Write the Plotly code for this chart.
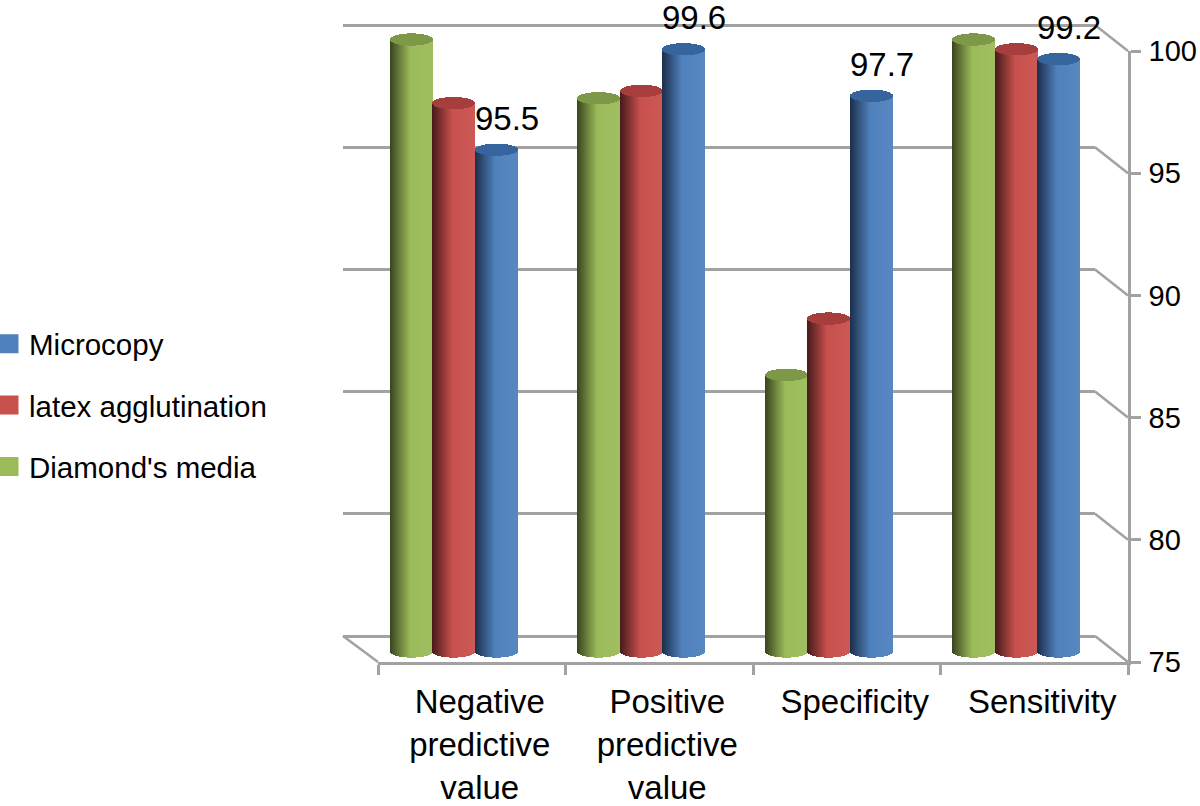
import math
import plotly.graph_objects as go

categories = ["Negative predictive value", "Positive predictive value", "Specificity", "Sensitivity"]
tick_labels = ["Negative<br>predictive<br>value", "Positive<br>predictive<br>value", "Specificity", "Sensitivity"]
diamonds_media = [100.0, 97.6, 86.3, 100.0]
latex_agglutination = [97.4, 97.9, 88.6, 99.6]
microcopy = [95.5, 99.6, 97.7, 99.2]
y_ticks = [75, 80, 85, 90, 95, 100]

W, H = 1200, 806
FONT = "Liberation Sans, Arial, sans-serif"
GRAY = "#a2a2a2"
STEPS = 42  # strips per cylinder (shading)
CAT_PX = 187.5
BAR_PX = 42.0
CAP_UNITS = 0.25  # half height of the elliptical cap, in value units
UNIT_PX = 24.48

series = [
    ("Diamond's media", diamonds_media, -42.5, (155, 187, 89), (125, 152, 70), (56, 68, 30)),
    ("latex agglutination", latex_agglutination, 0.0, (200, 80, 77), (165, 62, 60), (70, 26, 26)),
    ("Microcopy", microcopy, 42.5, (79, 129, 189), (54, 100, 156), (28, 46, 74)),
]


def px(p):
    return p / W


def py(p):
    return 1 - p / H


def rgb(c):
    return "rgb(%d,%d,%d)" % tuple(round(v) for v in c)


def mix(a, b, t):
    return tuple(x + (y - x) * t for x, y in zip(a, b))


def shade(t, base, dark):
    if t < 0.48:
        return mix(dark, base, t / 0.48)
    return mix(base, (255, 255, 255), 0.05 * (t - 0.48) / 0.52)


fig = go.Figure()

# legend entries (listed top to bottom)
for name, vals, _, col, _, _ in reversed(series):
    fig.add_trace(go.Scatter(
        x=categories, y=[None] * len(vals), name=name, mode="markers",
        legendgroup=name, xaxis="x", yaxis="y", hoverinfo="skip",
        marker=dict(symbol="square", size=16, color=rgb(col), line=dict(color=rgb(col), width=3)),
    ))

# front axes carrier
fig.add_trace(go.Scatter(x=categories, y=[None] * 4, showlegend=False, hoverinfo="skip",
                         xaxis="x3", yaxis="y3"))

for name, vals, shift, col, cap, dark in series:
    off0 = (shift - BAR_PX / 2) / CAT_PX
    # the plain bar for the series
    fig.add_trace(go.Bar(
        x=categories, y=[v - 75 for v in vals], base=75, name=name, showlegend=False,
        legendgroup=name, customdata=vals, hovertemplate="%{x}: %{customdata}<extra>" + name + "</extra>",
        width=BAR_PX / CAT_PX, offset=off0, marker=dict(color=rgb(col), line=dict(width=0)),
        xaxis="x2", yaxis="y2",
    ))
    # cylinder shading: narrow strips following the elliptical ends
    bx, by, bbase, boff, bcol = [], [], [], [], []
    cx, cy, cbase, coff = [], [], [], []
    for cat, v in zip(categories, vals):
        for i in range(STEPS):
            t = (i + 0.5) / STEPS
            e = CAP_UNITS * math.sqrt(max(0.0, 1 - (2 * t - 1) ** 2))
            o = off0 + i * (BAR_PX / STEPS) / CAT_PX
            bx.append(cat)
            bbase.append(75 - e)
            by.append(v - 75)
            boff.append(o)
            bcol.append(rgb(shade(t, col, dark)))
            cx.append(cat)
            cbase.append(v - e)
            cy.append(2 * e)
            coff.append(o)
    w = 1.25 * (BAR_PX / STEPS) / CAT_PX
    fig.add_trace(go.Bar(x=bx, y=by, base=bbase, offset=boff, width=w, showlegend=False,
                         hoverinfo="skip",
                         marker=dict(color=bcol, line=dict(width=0)), xaxis="x2", yaxis="y2"))
    fig.add_trace(go.Bar(x=cx, y=cy, base=cbase, offset=coff, width=w, showlegend=False,
                         hoverinfo="skip",
                         marker=dict(color=rgb(cap), line=dict(width=0)), xaxis="x2", yaxis="y2"))

# perspective connectors between back wall and front axes
LW = 2.5
shapes = []
for k in range(len(y_ticks)):
    yb = 636 - k * 122.2
    yf = 662 - k * 122.2
    shapes.append(dict(type="line", xref="paper", yref="paper", x0=px(1095), y0=py(yb),
                       x1=px(1128), y1=py(yf), line=dict(color=GRAY, width=LW), layer="below"))
shapes.append(dict(type="line", xref="paper", yref="paper", x0=px(343), y0=py(636),
                   x1=px(378), y1=py(662), line=dict(color=GRAY, width=LW), layer="below"))

annotations = [
    dict(x=cat, y=v, xref="x2", yref="y2", text="%.1f" % v, showarrow=False, xshift=53, yshift=31,
         font=dict(family=FONT, size=33, color="#000000"))
    for cat, v in zip(categories, microcopy)
]

cat_range = [-0.5, 3.5]
BACK_UNIT = 122.2 / 5
fig.update_layout(
    width=W, height=H, autosize=False,
    margin=dict(l=0, r=0, t=0, b=0, autoexpand=False),
    paper_bgcolor="white", plot_bgcolor="rgba(0,0,0,0)",
    barmode="overlay", bargap=0,
    font=dict(family=FONT, color="#000000"),
    shapes=shapes, annotations=annotations,
    legend=dict(x=px(-11), xanchor="left", y=py(318), yanchor="top", traceorder="grouped",
                tracegroupgap=20, font=dict(family=FONT, size=29.5, color="#000000"), itemsizing="trace",
                bgcolor="rgba(0,0,0,0)", itemclick=False, itemdoubleclick=False),
    xaxis=dict(domain=[px(343), px(1095)], type="category", categoryorder="array",
               categoryarray=categories, range=cat_range, visible=False, anchor="y"),
    # one extra value unit at each end so the gridlines at 75 and 100 are drawn
    yaxis=dict(domain=[py(636 + BACK_UNIT), py(25 - BACK_UNIT)], range=[74, 101], tickvals=y_ticks,
               showticklabels=False, ticks="", showgrid=True, gridcolor=GRAY, gridwidth=LW,
               zeroline=False, showline=False, anchor="x"),
    xaxis2=dict(domain=[px(360), px(1110)], type="category", categoryorder="array",
                categoryarray=categories, range=cat_range, visible=False, anchor="y2"),
    # one extra value unit at each end leaves room for the elliptical ends
    yaxis2=dict(domain=[py(651 + UNIT_PX), py(39 - UNIT_PX)], range=[74, 101], visible=False, anchor="x2"),
    xaxis3=dict(domain=[px(378), px(1128)], type="category", categoryorder="array",
                categoryarray=categories, range=cat_range, tickmode="array", tickvals=categories,
                ticktext=tick_labels, tickson="boundaries", ticks="outside", ticklen=10,
                tickwidth=LW, tickcolor=GRAY, showline=True, linecolor=GRAY, linewidth=LW,
                showgrid=False, zeroline=False, tickangle=0, ticklabelshift=8,
                ticklabelstandoff=9, tickfont=dict(family=FONT, size=33), anchor="y3"),
    yaxis3=dict(domain=[py(662), py(51)], range=[75, 100], tickvals=y_ticks, side="right",
                ticks="outside", ticklen=10, tickwidth=LW, tickcolor=GRAY, showline=True,
                linecolor=GRAY, linewidth=LW, showgrid=False, zeroline=False,
                ticklabelstandoff=2, tickfont=dict(family=FONT, size=29), anchor="x3"),
)

# the page's default body margin would push the fixed-size figure off the window
fig.write_html("out.html", config={"displayModeBar": False},
               post_script="document.body.style.margin='0';")
